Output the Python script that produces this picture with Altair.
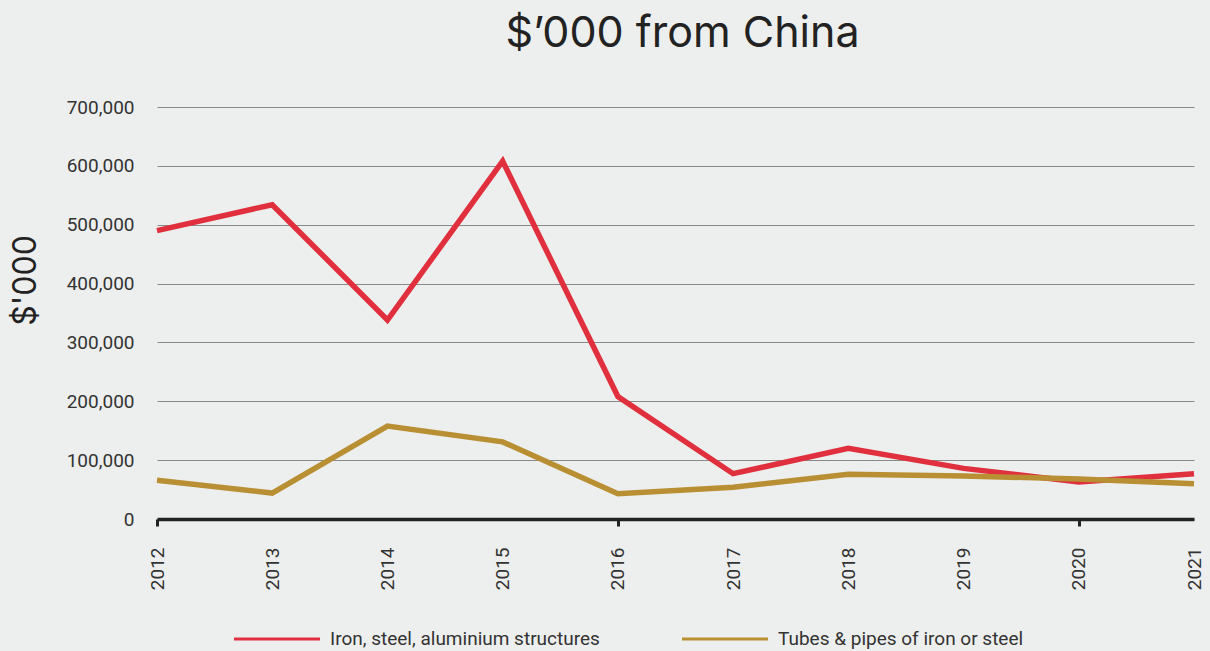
import altair as alt
import pandas as pd

years = [2012, 2013, 2014, 2015, 2016, 2017, 2018, 2019, 2020, 2021]
iron_structures = [490000, 534000, 338000, 608000, 208000, 77000, 120000, 86000, 63000, 77000]
tubes_pipes = [66000, 44000, 158000, 131000, 43000, 54000, 76000, 73000, 68000, 60000]
series_names = ["Iron, steel, aluminium structures", "Tubes & pipes of iron or steel"]
series_colors = ["#e0303e", "#b98f33"]

rows = []
for y, a, b in zip(years, iron_structures, tubes_pipes):
    rows.append({"year": y, "value": a, "series": series_names[0]})
    rows.append({"year": y, "value": b, "series": series_names[1]})
df = pd.DataFrame(rows)

narrow = "Roboto, sans-serif"

chart = alt.Chart(df).mark_line(strokeWidth=5.5, strokeJoin="miter").encode(
    x=alt.X(
        "year:Q",
        scale=alt.Scale(domain=[2012, 2021], nice=False, zero=False),
        axis=alt.Axis(
            title=None,
            values=years,
            format="d",
            labelAngle=270,
            labelFont=narrow,
            labelFontSize=19,
            labelColor="#333333",
            labelPadding=21,
            tickSize=7,
            tickWidth=3,
            tickColor="#222222",
            tickOpacity={"condition": {"test": "datum.value % 4 === 0", "value": 1}, "value": 0},
            domainColor="#222222",
            domainWidth=3.5,
            grid=False,
        ),
    ),
    y=alt.Y(
        "value:Q",
        scale=alt.Scale(domain=[0, 700000], nice=False),
        axis=alt.Axis(
            title="$'000",
            values=[0, 100000, 200000, 300000, 400000, 500000, 600000, 700000],
            format=",d",
            labelFont=narrow,
            labelFontSize=19,
            labelColor="#333333",
            labelPadding=23,
            ticks=False,
            domain=False,
            grid=True,
            gridColor="#8a8a8a",
            gridWidth=1.2,
            titleFont="Inter, Liberation Sans, sans-serif",
            titleFontSize=32,
            titleFontWeight="normal",
            titleColor="#222222",
            titleAngle=270,
            titleX=-132,
            titleY=173,
            titleAlign="center",
            titleBaseline="middle",
        ),
    ),
    color=alt.Color(
        "series:N",
        scale=alt.Scale(domain=series_names, range=series_colors),
        legend=alt.Legend(
            title=None,
            orient="none",
            direction="horizontal",
            legendX=75,
            legendY=487,
            symbolType="stroke",
            symbolSize=7400,
            symbolStrokeWidth=3,
            labelFont=narrow,
            labelFontSize=19,
            labelColor="#333333",
            labelOffset=8,
            labelLimit=400,
            columnPadding=75,
        ),
    ),
).properties(
    width=1037,
    height=412,
    autosize=alt.AutoSizeParams(type="none"),
    padding={"left": 157, "top": 107, "right": 16, "bottom": 132},
    background="#edefee",
    title=alt.TitleParams(
        text="$\u2019000 from China",
        font="Inter, Liberation Sans, sans-serif",
        fontSize=43,
        fontWeight="normal",
        color="#222222",
        anchor="middle",
        frame="group",
        baseline="alphabetic",
        offset=8,
        dx=7,
    ),
).configure_view(stroke=None)

chart.save("out.html", embed_options={"renderer": "svg", "actions": False})
